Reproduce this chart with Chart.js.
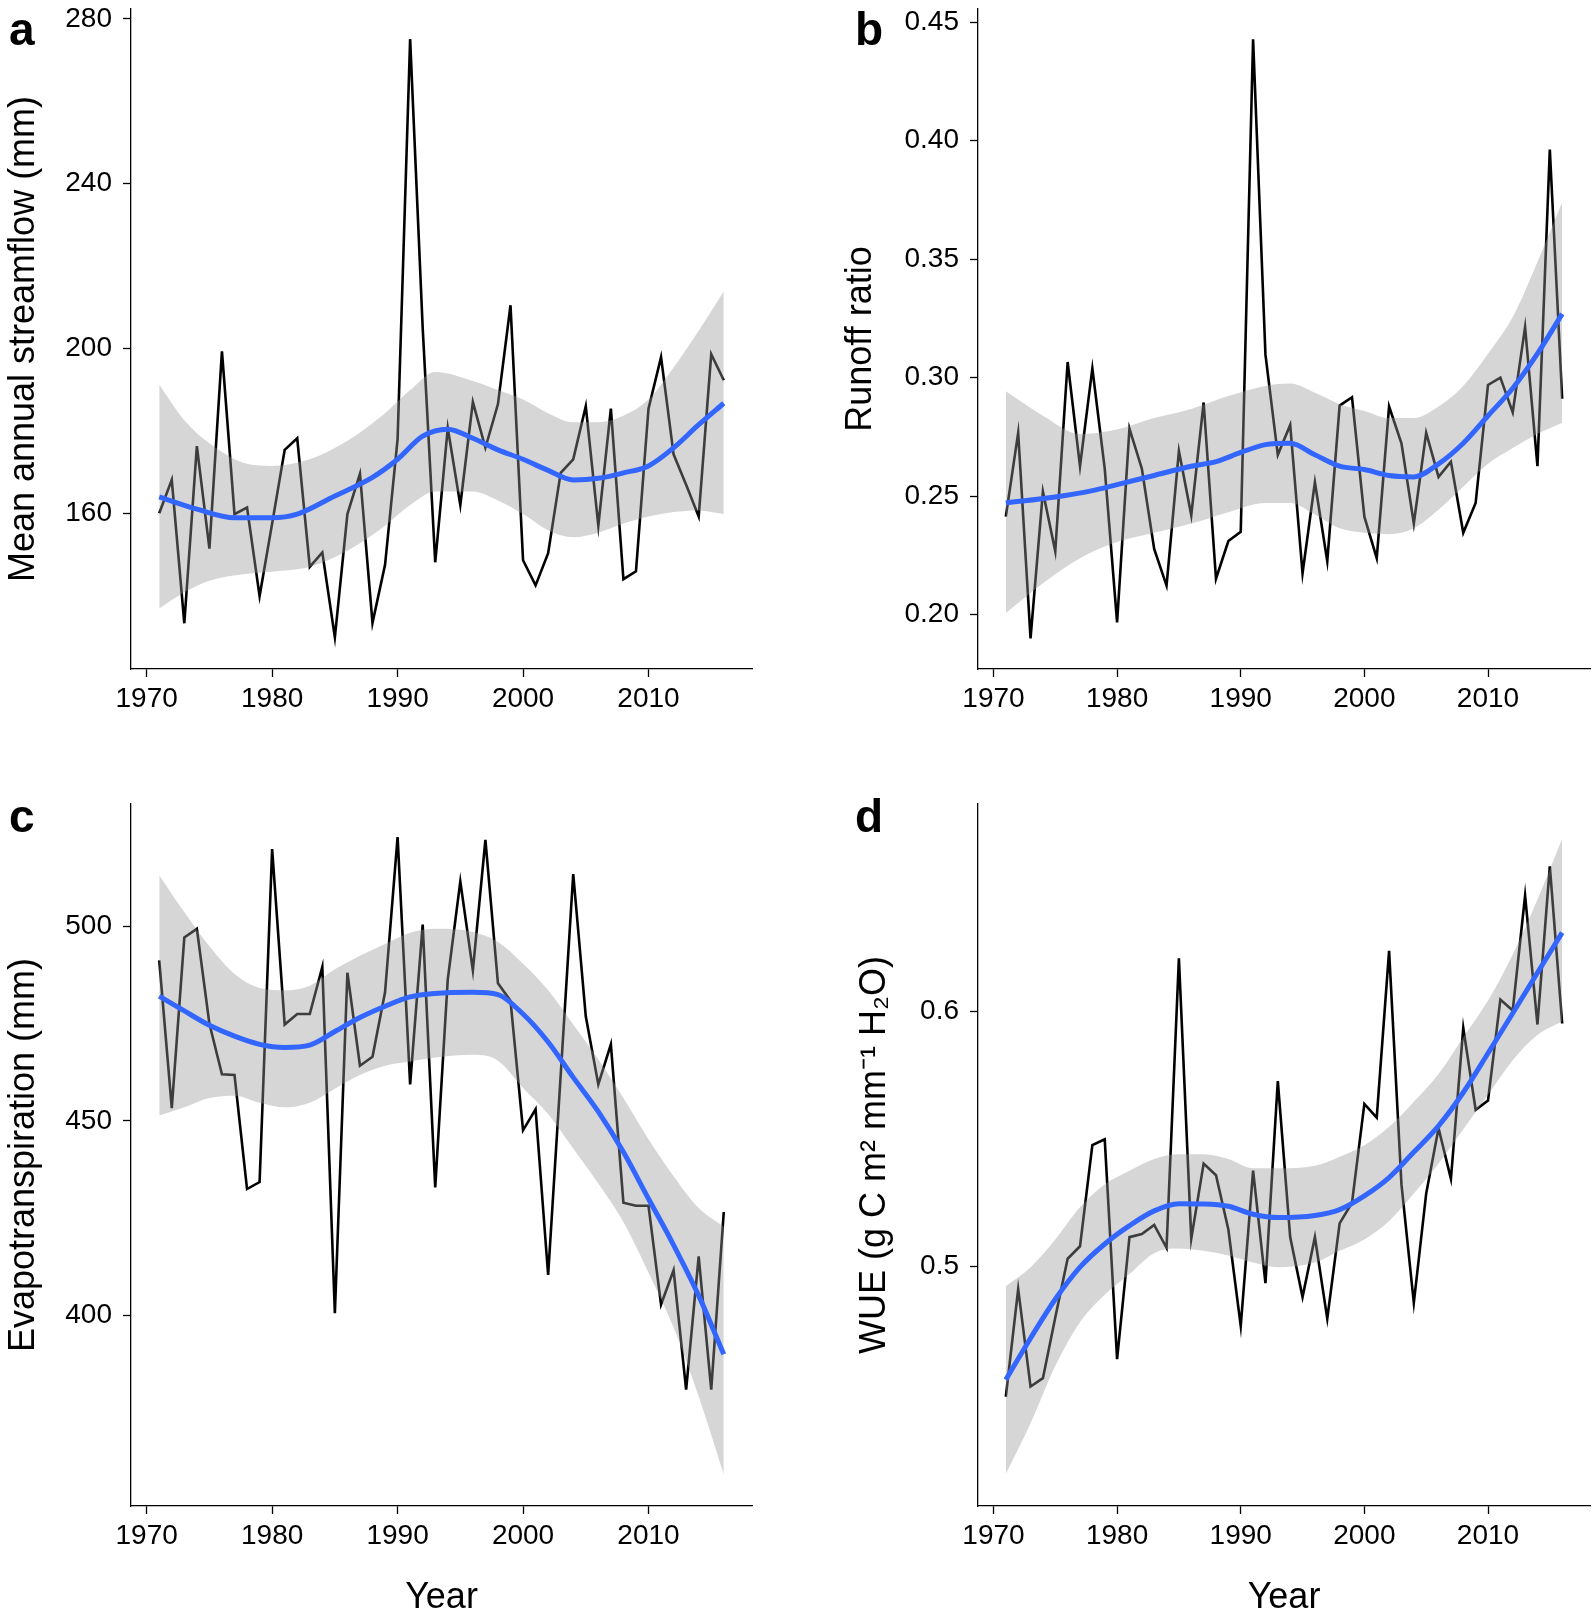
<!DOCTYPE html>
<html>
<head>
<meta charset="utf-8">
<title>Streamflow, runoff ratio, ET and WUE trends</title>
<script src="https://cdn.jsdelivr.net/npm/chart.js@4.4.1/dist/chart.umd.min.js"></script>
<style>
  body { margin: 0; background: #fff; }
  #wrap { position: relative; width: 1593px; height: 1616px; }
  canvas { position: absolute; }
</style>
</head>
<body>
<div id="wrap">
  <canvas id="panelA" width="796" height="790" style="left:0;top:0"></canvas>
  <canvas id="panelB" width="797" height="790" style="left:796px;top:0"></canvas>
  <canvas id="panelC" width="796" height="826" style="left:0;top:790px"></canvas>
  <canvas id="panelD" width="797" height="826" style="left:796px;top:790px"></canvas>
</div>
<script>
// observed years
const years = [1971, 1972, 1973, 1974, 1975, 1976, 1977, 1978, 1979, 1980,
  1981, 1982, 1983, 1984, 1985, 1986, 1987, 1988, 1989, 1990,
  1991, 1992, 1993, 1994, 1995, 1996, 1997, 1998, 1999, 2000,
  2001, 2002, 2003, 2004, 2005, 2006, 2007, 2008, 2009, 2010,
  2011, 2012, 2013, 2014, 2015, 2016];

// a: mean annual streamflow (mm)
const streamflow = [160.0, 168.1, 133.3, 176.3, 151.4, 199.3, 159.8, 161.4, 139.9, 157.5,
  175.4, 178.2, 147.0, 150.5, 129.9, 159.8, 169.6, 133.4, 147.5, 178.0,
  275.1, 205.0, 148.1, 180.7, 162.0, 187.0, 175.9, 186.5, 210.5, 148.6,
  142.5, 150.3, 169.8, 173.1, 186.0, 157.0, 185.4, 144.0, 145.9, 185.4,
  197.9, 174.3, 166.9, 159.2, 198.6, 192.3];
const streamflowFitYears = [1971, 1974, 1977, 1980, 1982, 1985, 1988, 1990, 1992, 1994, 1996,
  1998, 2000, 2002, 2004, 2006, 2008, 2010, 2012, 2014, 2016];
const streamflowFit = [164.0, 161.0, 158.9, 158.9, 159.8, 164.2, 168.7, 173.1, 178.7, 180.4, 178.2,
  175.4, 173.1, 170.4, 168.1, 168.5, 169.8, 171.5, 175.9, 181.5, 186.7];
const streamflowBandYears = [1971, 1973, 1975, 1978, 1980, 1983, 1986, 1989, 1991, 1993, 1996,
  1998, 2000, 2002, 2004, 2006, 2008, 2010, 2012, 2014, 2016];
const streamflowHigh = [191.2, 182.6, 177.0, 172.0, 171.5, 173.1, 177.6, 184.3, 189.9, 194.3, 192.1,
  189.9, 187.6, 184.3, 182.1, 182.1, 183.7, 187.6, 195.4, 204.3, 213.8];
const streamflowLow = [136.9, 140.8, 143.6, 145.3, 145.8, 147.0, 150.9, 157.0, 162.0, 165.3, 165.3,
  163.1, 159.8, 155.9, 154.2, 155.3, 157.5, 159.2, 160.3, 160.7, 159.8];

// b: runoff ratio
const runoffRatio = [0.2413, 0.2767, 0.1899, 0.2519, 0.2267, 0.3066, 0.2626, 0.3039, 0.2616, 0.1967,
  0.2785, 0.2616, 0.2277, 0.2122, 0.2690, 0.2419, 0.2895, 0.2151, 0.2310, 0.2349,
  0.4428, 0.3097, 0.2674, 0.2800, 0.2174, 0.2558, 0.2225, 0.2882, 0.2917, 0.2413,
  0.2238, 0.2878, 0.2723, 0.2384, 0.2767, 0.2581, 0.2645, 0.2345, 0.2471, 0.2969,
  0.3000, 0.2853, 0.3213, 0.2626, 0.3963, 0.2911];
const runoffFitYears = [1971, 1975, 1978, 1980, 1983, 1986, 1988, 1990, 1992, 1994, 1996,
  1998, 2000, 2002, 2004, 2006, 2008, 2010, 2012, 2014, 2016];
const runoffFit = [0.2471, 0.2496, 0.2523, 0.2548, 0.2587, 0.2626, 0.2645, 0.2684, 0.2717, 0.2723, 0.2674,
  0.2626, 0.2612, 0.2587, 0.2581, 0.2636, 0.2723, 0.2839, 0.2955, 0.3101, 0.3269];
const runoffBandYears = [1971, 1974, 1977, 1980, 1983, 1986, 1989, 1992, 1994, 1996,
  1998, 2000, 2002, 2004, 2006, 2008, 2010, 2012, 2014, 2016];
const runoffHigh = [0.2942, 0.2839, 0.2762, 0.2781, 0.2829, 0.2868, 0.2922, 0.2965, 0.2975, 0.2936,
  0.2888, 0.2859, 0.2829, 0.2829, 0.2878, 0.2965, 0.3101, 0.3256, 0.3488, 0.3740];
const runoffLow = [0.2006, 0.2132, 0.2238, 0.2306, 0.2345, 0.2384, 0.2432, 0.2471, 0.2471, 0.2422,
  0.2364, 0.2345, 0.2339, 0.2364, 0.2442, 0.2539, 0.2636, 0.2703, 0.2762, 0.2810];

// c: evapotranspiration (mm)
const evapotranspiration = [491.3, 453.3, 497.2, 499.4, 475.0, 462.0, 461.8, 432.5, 434.3, 519.9,
  474.8, 477.5, 477.5, 489.6, 400.6, 488.1, 464.2, 466.5, 483.1, 523.0,
  459.4, 500.5, 432.9, 486.4, 511.6, 488.7, 522.3, 485.4, 480.9, 447.6,
  453.0, 410.4, 461.8, 513.5, 476.9, 459.4, 469.7, 429.0, 428.2, 428.2,
  402.8, 411.6, 380.9, 415.2, 380.9, 426.6];
const etFitYears = [1971, 1973, 1975, 1977, 1979, 1981, 1983, 1985, 1987, 1989, 1991, 1993,
  1996, 1998, 2000, 2002, 2004, 2006, 2008, 2010, 2012, 2014, 2016];
const etFit = [482.1, 478.3, 474.6, 471.8, 469.7, 468.9, 469.5, 473.0, 476.6, 479.5, 481.9, 482.8,
  483.1, 482.5, 477.5, 470.3, 461.2, 452.4, 442.0, 430.0, 418.1, 405.1, 390.0];
const etBandYears = [1971, 1973, 1975, 1977, 1979, 1981, 1983, 1985, 1987, 1989, 1991, 1993,
  1996, 1998, 2000, 2002, 2004, 2006, 2008, 2010, 2012, 2014, 2016];
const etHigh = [513.2, 503.7, 494.9, 487.8, 484.2, 483.6, 484.8, 489.0, 492.5, 495.5, 498.4, 499.4,
  498.6, 496.0, 490.4, 483.6, 474.8, 465.8, 455.9, 445.3, 435.8, 427.6, 422.8];
const etLow = [451.4, 453.5, 455.9, 456.5, 454.7, 453.5, 454.7, 458.3, 461.8, 464.2, 465.3, 466.3,
  467.0, 465.5, 458.5, 451.8, 442.9, 433.9, 424.0, 411.0, 396.9, 379.2, 359.1];

// d: water use efficiency
const wue = [0.4487, 0.4910, 0.4527, 0.4560, 0.4798, 0.5029, 0.5078, 0.5475, 0.5498, 0.4635,
  0.5114, 0.5126, 0.5162, 0.5072, 0.6209, 0.5108, 0.5403, 0.5357, 0.5144, 0.4765,
  0.5375, 0.4933, 0.5727, 0.5114, 0.4879, 0.5114, 0.4794, 0.5168, 0.5249, 0.5637,
  0.5583, 0.6238, 0.5321, 0.4856, 0.5285, 0.5542, 0.5343, 0.5935, 0.5614, 0.5650,
  0.6047, 0.6004, 0.6455, 0.5949, 0.6570, 0.5953];
const wueFitYears = [1971, 1973, 1975, 1977, 1979, 1981, 1983, 1985, 1987, 1989, 1991, 1993,
  1996, 1998, 2000, 2002, 2004, 2006, 2008, 2010, 2012, 2014, 2016];
const wueFit = [0.4554, 0.4717, 0.4870, 0.4996, 0.5087, 0.5159, 0.5217, 0.5245, 0.5244, 0.5235, 0.5204, 0.5191,
  0.5199, 0.5222, 0.5276, 0.5348, 0.5448, 0.5551, 0.5682, 0.5836, 0.5993, 0.6152, 0.6310];
const wueBandYears = [1971, 1973, 1975, 1977, 1979, 1981, 1983, 1985, 1987, 1989, 1991, 1993,
  1996, 1998, 2000, 2002, 2004, 2006, 2008, 2010, 2012, 2014, 2016];
const wueHigh = [0.4921, 0.4996, 0.5105, 0.5231, 0.5321, 0.5375, 0.5421, 0.5439, 0.5439, 0.5421, 0.5384, 0.5384,
  0.5394, 0.5430, 0.5475, 0.5547, 0.5646, 0.5755, 0.5899, 0.6043, 0.6224, 0.6440, 0.6679];
const wueLow = [0.4184, 0.4383, 0.4608, 0.4780, 0.4888, 0.4969, 0.5051, 0.5069, 0.5060, 0.5042, 0.5014, 0.4996,
  0.5014, 0.5060, 0.5105, 0.5177, 0.5285, 0.5403, 0.5538, 0.5673, 0.5809, 0.5908, 0.5962];

// tick labels
const yearTicks = [1970, 1980, 1990, 2000, 2010];
const streamflowTicks = [160, 200, 240, 280];
const streamflowTickLabels = ['160', '200', '240', '280'];
const runoffTicks = [0.20, 0.25, 0.30, 0.35, 0.40, 0.45];
const runoffTickLabels = ['0.20', '0.25', '0.30', '0.35', '0.40', '0.45'];
const etTicks = [400, 450, 500];
const etTickLabels = ['400', '450', '500'];
const wueTicks = [0.5, 0.6];
const wueTickLabels = ['0.5', '0.6'];

const FONT = '"Liberation Sans", Arial, sans-serif';
Chart.defaults.font.family = FONT;
Chart.defaults.color = '#000';

function pts(xs, ys) {
  return xs.map((x, i) => ({ x: x, y: ys[i] }));
}

// panel letter drawn in the top-left corner of each canvas
const panelLetter = {
  id: 'panelLetter',
  afterDraw(chart, args, opts) {
    const ctx = chart.ctx;
    ctx.save();
    ctx.font = 'bold 46px ' + FONT;
    ctx.fillStyle = '#000';
    ctx.textBaseline = 'alphabetic';
    ctx.fillText(opts.text, opts.x, opts.y);
    ctx.restore();
  }
};

function makePanel(id, p) {
  const smoothLine = { pointRadius: 0, borderWidth: 0, borderColor: 'transparent', cubicInterpolationMode: 'monotone' };
  return new Chart(document.getElementById(id), {
    type: 'line',
    data: {
      datasets: [
        Object.assign({}, smoothLine, { data: pts(p.fitYears, p.fit), borderColor: '#3366FF', borderWidth: 5, fill: false }),
        Object.assign({}, smoothLine, { data: pts(p.bandYears, p.high), fill: '+1', backgroundColor: 'rgba(153,153,153,0.4)' }),
        Object.assign({}, smoothLine, { data: pts(p.bandYears, p.low), fill: false }),
        { data: pts(years, p.obs), borderColor: '#000', borderWidth: 2.6, pointRadius: 0, tension: 0, fill: false }
      ]
    },
    options: {
      responsive: false,
      animation: false,
      events: [],
      layout: { autoPadding: false, padding: { top: p.padTop, right: p.padRight, left: 0, bottom: 0 } },
      plugins: {
        legend: { display: false },
        tooltip: { enabled: false },
        panelLetter: { text: p.letter, x: p.letterX, y: p.letterY }
      },
      scales: {
        x: {
          type: 'linear',
          min: 1968.75,
          max: 2018.25,
          afterBuildTicks: s => { s.ticks = yearTicks.map(v => ({ value: v })); },
          // fixed axis size, and no extra room asked for the end labels
          afterFit: s => { s.height = p.xHeight; s.paddingLeft = 0; s.paddingRight = 0; },
          ticks: { callback: v => String(v), font: { size: 28 }, color: '#000', padding: 5.5, maxRotation: 0, autoSkip: false },
          grid: { display: true, drawOnChartArea: false, drawTicks: true, tickLength: 8, tickColor: '#000', tickWidth: 1.3 },
          border: { display: true, color: '#000', width: 1.3 },
          title: { display: p.showYear, text: 'Year', font: { size: 36, lineHeight: 1 }, color: '#000', padding: { top: 0, bottom: 0 } }
        },
        y: {
          type: 'linear',
          min: p.yMin,
          max: p.yMax,
          afterBuildTicks: s => { s.ticks = p.yTicks.map(v => ({ value: v })); },
          afterFit: s => { s.width = p.yWidth; s.paddingTop = 0; s.paddingBottom = 0; },
          ticks: { callback: (v, i) => p.yLabels[i], font: { size: 28 }, color: '#000', padding: 11, autoSkip: false },
          grid: { display: true, drawOnChartArea: false, drawTicks: true, tickLength: 8, tickColor: '#000', tickWidth: 1.3 },
          border: { display: true, color: '#000', width: 1.3 },
          title: { display: true, text: p.yTitle, font: { size: 36, lineHeight: 1 }, color: '#000', padding: { top: p.titlePad, bottom: 0 } }
        }
      }
    },
    plugins: [panelLetter]
  });
}

makePanel('panelA', {
  obs: streamflow, fitYears: streamflowFitYears, fit: streamflowFit,
  bandYears: streamflowBandYears, high: streamflowHigh, low: streamflowLow,
  yMin: 122.2, yMax: 282.4, yTicks: streamflowTicks, yLabels: streamflowTickLabels,
  yTitle: 'Mean annual streamflow (mm)', titlePad: 6,
  padTop: 9, padRight: 44, yWidth: 131, xHeight: 121, showYear: false,
  letter: 'a', letterX: 9, letterY: 45
});

makePanel('panelB', {
  obs: runoffRatio, fitYears: runoffFitYears, fit: runoffFit,
  bandYears: runoffBandYears, high: runoffHigh, low: runoffLow,
  yMin: 0.1770, yMax: 0.4556, yTicks: runoffTicks, yLabels: runoffTickLabels,
  yTitle: 'Runoff ratio', titlePad: 47.5,
  padTop: 9, padRight: 3, yWidth: 182, xHeight: 121, showYear: false,
  letter: 'b', letterX: 59, letterY: 45
});

makePanel('panelC', {
  obs: evapotranspiration, fitYears: etFitYears, fit: etFit,
  bandYears: etBandYears, high: etHigh, low: etLow,
  yMin: 351.0, yMax: 531.5, yTicks: etTicks, yLabels: etTickLabels,
  yTitle: 'Evapotranspiration (mm)', titlePad: 6,
  padTop: 14, padRight: 44, yWidth: 131, xHeight: 110, showYear: true,
  letter: 'c', letterX: 9, letterY: 42
});

makePanel('panelD', {
  obs: wue, fitYears: wueFitYears, fit: wueFit,
  bandYears: wueBandYears, high: wueHigh, low: wueLow,
  yMin: 0.4058, yMax: 0.6815, yTicks: wueTicks, yLabels: wueTickLabels,
  yTitle: 'WUE (g C m\u00B2 mm\u207B\u00B9 H\u2082O)', titlePad: 61,
  padTop: 14, padRight: 3, yWidth: 182, xHeight: 110, showYear: true,
  letter: 'd', letterX: 59, letterY: 42
});
</script>
</body>
</html>
